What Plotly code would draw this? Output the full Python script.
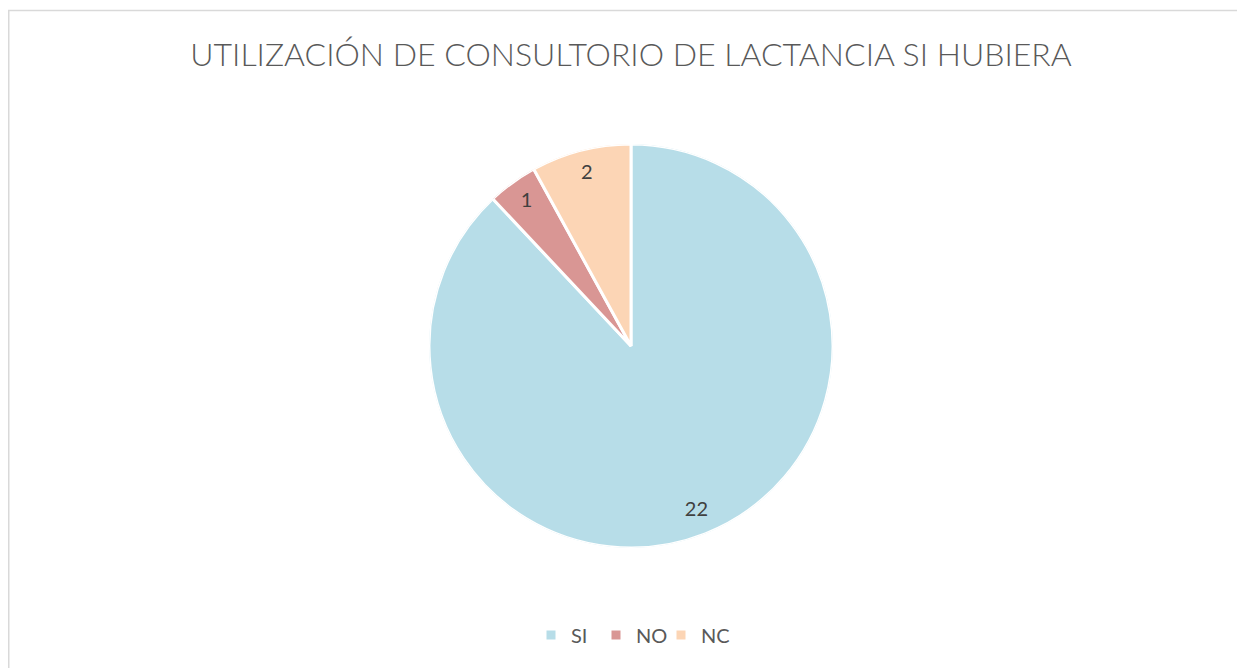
import plotly.graph_objects as go

labels = ["SI", "NO", "NC"]
values = [22, 1, 2]
colors = ["#B7DDE8", "#D99694", "#FCD5B5"]
title_text = "UTILIZACIÓN DE CONSULTORIO DE LACTANCIA SI HUBIERA"

# figure is drawn 8px in from the page corner (body margin)
OFF = 8
W, H = 1245 - OFF, 668 - OFF
cx, cy, r = 631 - OFF, 346 - OFF, 202

dom = dict(x=[(cx - r) / W, (cx + r) / W], y=[1 - (cy + r) / H, 1 - (cy - r) / H])

total = sum(values)
cum = 0
mid_theta, widths = [], []
for v in values:
    mid_theta.append((cum + v / 2) / total * 360)
    widths.append(v / total * 360)
    cum += v

fig = go.Figure()
for lab, val, col, th, wd in zip(labels, values, colors, mid_theta, widths):
    fig.add_trace(go.Barpolar(
        r=[1], theta=[th], width=[wd], name=lab,
        marker=dict(color=col, line=dict(color="white", width=3)),
        hovertemplate=f"{lab}: {val}<extra></extra>",
    ))
# empty spacer entry so the last legend label is not clipped
fig.add_trace(go.Barpolar(
    r=[0], theta=[0], width=[0], name=" ", hoverinfo="skip",
    marker=dict(color="rgba(0,0,0,0)", line=dict(width=0)),
))
fig.add_trace(go.Scatterpolar(
    r=[0.88] * len(values), theta=mid_theta, mode="text",
    text=[str(v) for v in values], showlegend=False, hoverinfo="skip",
    textfont=dict(color="#404040", size=20, family="Lato, sans-serif"),
))

fig.update_layout(
    width=W, height=H, margin=dict(l=0, r=0, t=0, b=0),
    paper_bgcolor="white", plot_bgcolor="white",
    polar=dict(domain=dom, bgcolor="rgba(0,0,0,0)", hole=0, bargap=0,
               radialaxis=dict(range=[0, 1], visible=False, showgrid=False),
               angularaxis=dict(rotation=90, direction="clockwise", visible=False, showgrid=False)),
    title=dict(text=title_text, x=(631 - OFF) / W, xanchor="center", y=1 - (55 - OFF) / H, yanchor="middle",
               font=dict(family="Lato, sans-serif", size=32, color="#595959", weight=300)),
    legend=dict(orientation="h", x=(661 - OFF) / W, xanchor="center", y=1 - (635 - OFF) / H, yanchor="middle",
                font=dict(family="Lato, sans-serif", size=20, color="#595959"),
                itemwidth=30, entrywidth=20, traceorder="normal", itemclick=False, itemdoubleclick=False),
    shapes=[dict(type="rect", xref="paper", yref="paper",
                 x0=0.75 / W, x1=1.02, y0=-0.02, y1=1 - 2.5 / H,
                 line=dict(color="#D9D9D9", width=1.5), fillcolor="rgba(0,0,0,0)")],
)

fig.write_html("out.html")
